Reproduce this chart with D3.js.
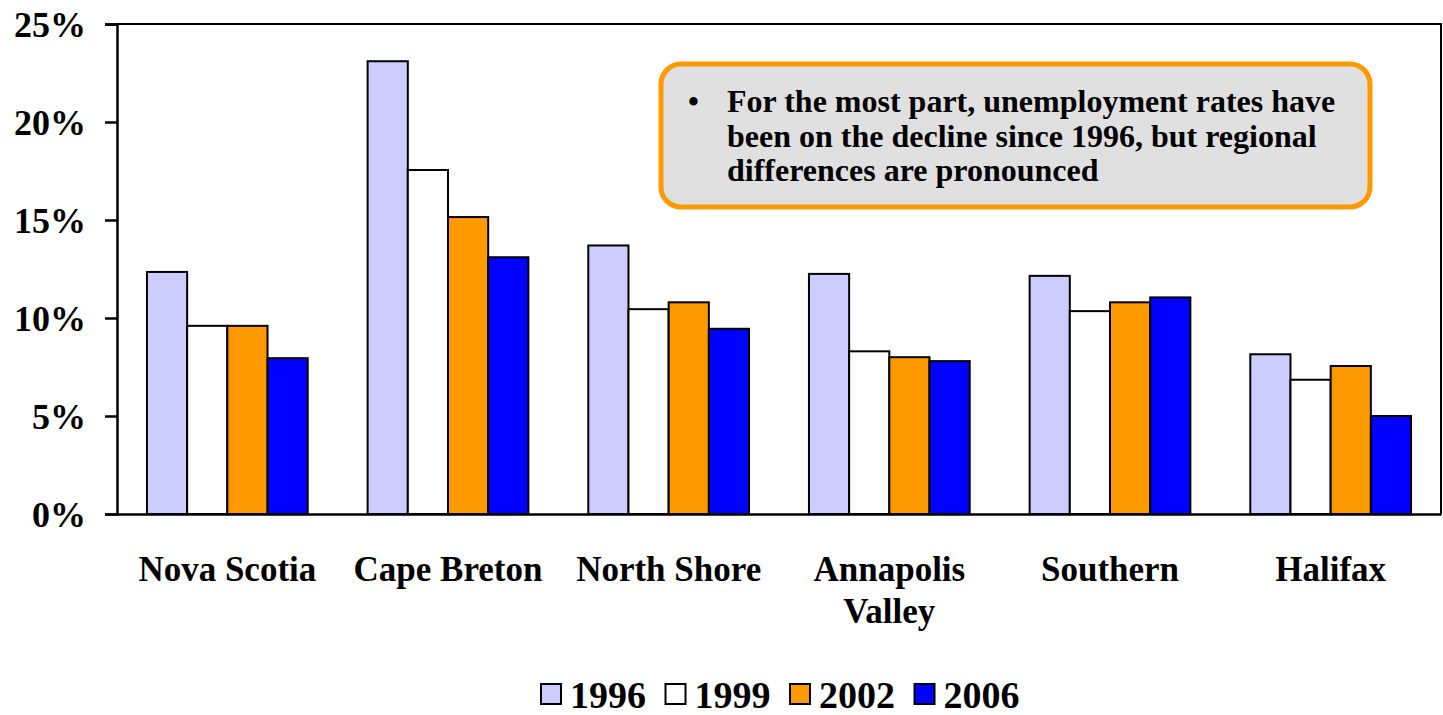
<!DOCTYPE html>
<html>
<head>
<meta charset="utf-8">
<script src="https://d3js.org/d3.v7.min.js"></script>
<style>
body { margin: 0; background: #fff; }
text { font-family: "Liberation Serif", "Times New Roman", serif; font-weight: bold; fill: #000; }
</style>
</head>
<body>
<svg id="chart"></svg>
<script>
// Data
var regions = ["Nova Scotia", "Cape Breton", "North Shore", "Annapolis Valley", "Southern", "Halifax"];
var years = ["1996", "1999", "2002", "2006"];
var rates1996 = [12.35, 23.1, 13.7, 12.25, 12.15, 8.15];
var rates1999 = [9.6, 17.55, 10.45, 8.3, 10.35, 6.85];
var rates2002 = [9.6, 15.15, 10.8, 8.0, 10.8, 7.55];
var rates2006 = [7.95, 13.1, 9.45, 7.8, 11.05, 5.0];
var yTicks = [0, 5, 10, 15, 20, 25];
var colors = ["#ccccff", "#ffffff", "#ff9900", "#0000ff"];
var note = ["For the most part, unemployment rates have",
            "been on the decline since 1996, but regional",
            "differences are pronounced"];

var series = [rates1996, rates1999, rates2002, rates2006];

var width = 1443, height = 715;
var margin = { left: 117, right: 2, top: 24, bottom: 201 };

var svg = d3.select("#chart").attr("width", width).attr("height", height);

var x0 = d3.scaleBand()
  .domain(regions)
  .range([margin.left, width - margin.right])
  .paddingInner(60 / 221)
  .paddingOuter(30 / 221);

var x1 = d3.scaleBand()
  .domain(years)
  .range([0, x0.bandwidth()]);

var y = d3.scaleLinear()
  .domain([0, 25])
  .range([height - margin.bottom, margin.top]);

// Bars
var groups = svg.selectAll("g.region")
  .data(regions)
  .enter().append("g")
  .attr("class", "region")
  .attr("transform", function (d) { return "translate(" + x0(d) + ",0)"; });

groups.selectAll("rect")
  .data(function (d, i) {
    return years.map(function (yr, j) { return { year: yr, value: series[j][i], idx: j }; });
  })
  .enter().append("rect")
  .attr("x", function (d) { return x1(d.year); })
  .attr("y", function (d) { return y(d.value); })
  .attr("width", x1.bandwidth())
  .attr("height", function (d) { return y(0) - y(d.value); })
  .attr("fill", function (d) { return colors[d.idx]; })
  .attr("stroke", "#000")
  .attr("stroke-width", 2);

// Frame (top and right)
svg.append("path")
  .attr("d", "M" + margin.left + "," + y(25) + "H" + (width - margin.right) + "V" + y(0))
  .attr("fill", "none")
  .attr("stroke", "#000")
  .attr("stroke-width", 2);

// Y axis
var yAxis = svg.append("g")
  .attr("transform", "translate(" + margin.left + ",0)")
  .call(d3.axisLeft(y).tickValues(yTicks).tickSize(12).tickPadding(19)
    .tickFormat(function (d) { return d + "%"; }));
yAxis.select(".domain").attr("stroke-width", 2.5);
yAxis.selectAll(".tick line").attr("stroke-width", 2.5);
yAxis.selectAll("text").style("font-size", "36px").attr("dy", "0.35em");

// X axis
var xAxis = svg.append("g")
  .attr("transform", "translate(0," + y(0) + ")")
  .call(d3.axisBottom(x0).tickSize(0).tickFormat(""));
xAxis.select(".domain").attr("stroke-width", 2.5);

// Category labels
svg.selectAll("text.cat")
  .data(regions)
  .enter().append("text")
  .attr("class", "cat")
  .attr("text-anchor", "middle")
  .style("font-size", "35px")
  .each(function (d) {
    var t = d3.select(this);
    var cx = x0(d) + x0.bandwidth() / 2;
    var lines = d === "Annapolis Valley" ? ["Annapolis", "Valley"] : [d];
    lines.forEach(function (l, i) {
      t.append("tspan").attr("x", cx).attr("y", 581 + i * 42).text(l);
    });
  });

// Annotation box
var box = svg.append("g");
box.append("rect")
  .attr("x", 661).attr("y", 64)
  .attr("width", 709).attr("height", 143)
  .attr("rx", 20).attr("ry", 20)
  .attr("fill", "#e0e0e0")
  .attr("stroke", "#ff9900")
  .attr("stroke-width", 5);
box.append("text")
  .attr("x", 688).attr("y", 112)
  .style("font-size", "31px")
  .text("\u2022");
box.selectAll("text.note")
  .data(note)
  .enter().append("text")
  .attr("class", "note")
  .attr("x", 727)
  .attr("y", function (d, i) { return 112 + i * 34.5; })
  .style("font-size", "32px")
  .text(function (d) { return d; });

// Legend
var legend = svg.selectAll("g.legend")
  .data(years)
  .enter().append("g")
  .attr("class", "legend")
  .attr("transform", function (d, i) { return "translate(" + (541 + i * 124.5) + ",684)"; });
legend.append("rect")
  .attr("width", 20).attr("height", 20)
  .attr("fill", function (d, i) { return colors[i]; })
  .attr("stroke", "#000")
  .attr("stroke-width", 2);
legend.append("text")
  .attr("x", 29).attr("y", 24)
  .style("font-size", "38px")
  .text(function (d) { return d; });
</script>
</body>
</html>
